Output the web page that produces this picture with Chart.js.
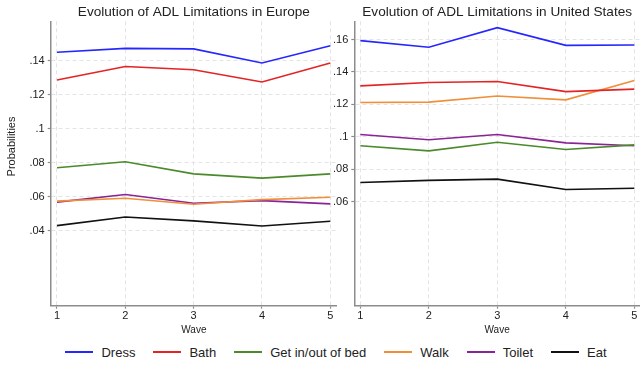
<!DOCTYPE html>
<html>
<head>
<meta charset="utf-8">
<script src="https://cdn.jsdelivr.net/npm/chart.js@4/dist/chart.umd.min.js"></script>
<style>
  html, body { margin: 0; padding: 0; background: #fff; }
  #wrap { position: relative; width: 640px; height: 365px; overflow: hidden; }
  canvas { position: absolute; top: 0; }
  #euChart { left: 0; }
  #usChart { left: 300px; }
  #legend {
    position: absolute; left: 0; top: 343px; width: 640px; height: 18px;
    display: flex; justify-content: center; align-items: center;
    padding-left: 32px; box-sizing: border-box;
    font-family: "Liberation Sans", Arial, Helvetica, sans-serif;
    font-size: 13px; color: #222;
  }
  .item { display: flex; align-items: center; margin-right: 18px; }
  .item:last-child { margin-right: 0; }
  .swatch { width: 28px; height: 2px; margin-right: 8px; }
</style>
</head>
<body>
<div id="wrap">
  <canvas id="euChart" width="337" height="340"></canvas>
  <canvas id="usChart" width="340" height="340"></canvas>
  <div id="legend"></div>
</div>
<script>
// =============================================================================
// DATA
// =============================================================================
const waves = [1, 2, 3, 4, 5];
const seriesNames = ["Dress", "Bath", "Get in/out of bed", "Walk", "Toilet", "Eat"];
const seriesColors = ["#2626ff", "#e42324", "#4b8a2b", "#f08f3a", "#8a2496", "#111111"];

// Europe
const euDress  = [0.1449, 0.1472, 0.1469, 0.1386, 0.1488];
const euBath   = [0.1286, 0.1366, 0.1347, 0.1275, 0.1386];
const euBed    = [0.0771, 0.0806, 0.0735, 0.0710, 0.0735];
const euWalk   = [0.0575, 0.0592, 0.0557, 0.0584, 0.0598];
const euToilet = [0.0569, 0.0614, 0.0563, 0.0578, 0.0559];
const euEat    = [0.0431, 0.0482, 0.0459, 0.0429, 0.0457];

// United States
const usDress  = [0.1593, 0.1552, 0.1673, 0.1564, 0.1566];
const usBath   = [0.1314, 0.1335, 0.1341, 0.1279, 0.1294];
const usBed    = [0.0945, 0.0914, 0.0967, 0.0922, 0.0951];
const usWalk   = [0.1212, 0.1214, 0.1252, 0.1228, 0.1347];
const usToilet = [0.1015, 0.0982, 0.1015, 0.0963, 0.0945];
const usEat    = [0.0719, 0.0732, 0.0740, 0.0676, 0.0684];

// tick labels (Stata style, no leading zero)
const euTicks      = [0.04, 0.06, 0.08, 0.10, 0.12, 0.14];
const euTickLabels = [".04", ".06", ".08", ".1", ".12", ".14"];
const usTicks      = [0.06, 0.08, 0.10, 0.12, 0.14, 0.16];
const usTickLabels = [".06", ".08", ".1", ".12", ".14", ".16"];

// =============================================================================
// HELPERS
// =============================================================================
const FONT = '"Liberation Sans", Arial, Helvetica, sans-serif';
const AXIS_COLOR = "#8c8c8c";
const GRID_COLOR = "#e4e4e4";

function makeDatasets(values) {
  return values.map((v, i) => ({
    label: seriesNames[i],
    data: waves.map((w, j) => ({ x: w, y: v[j] })),
    borderColor: seriesColors[i],
    backgroundColor: seriesColors[i],
    borderWidth: 1.6,
    pointRadius: 0,
    tension: 0,
    fill: false
  }));
}

// y axis title drawn a bit above the plot centre, like Stata does
const yTitlePlugin = {
  id: "yTitle",
  afterDraw(chart, args, opts) {
    if (!opts.text) return;
    const ctx = chart.ctx;
    ctx.save();
    ctx.translate(opts.x, opts.y);
    ctx.rotate(-Math.PI / 2);
    ctx.font = `11px ${FONT}`;
    ctx.fillStyle = "#222";
    ctx.textAlign = "center";
    ctx.textBaseline = "middle";
    ctx.fillText(opts.text, 0, 0);
    ctx.restore();
  }
};

function makeChart(canvasId, cfg) {
  return new Chart(document.getElementById(canvasId), {
    type: "line",
    data: { datasets: makeDatasets(cfg.values) },
    plugins: [yTitlePlugin],
    options: {
      responsive: false,
      animation: false,
      layout: { padding: 0 },
      plugins: {
        legend: { display: false },
        tooltip: { enabled: false },
        title: {
          display: true,
          text: cfg.title,
          fullSize: false,
          color: "#222",
          font: { family: FONT, size: 13.6, weight: "normal" },
          padding: { top: 4, bottom: 1 }
        },
        yTitle: cfg.yTitle
      },
      scales: {
        x: {
          type: "linear",
          min: cfg.xMin,
          max: cfg.xMax,
          afterBuildTicks: s => { s.ticks = waves.map(w => ({ value: w })); },
          afterFit: s => { s.height = 34.3; },
          ticks: {
            color: "#222",
            font: { family: FONT, size: 11 },
            padding: 1,
            maxRotation: 0,
            callback: v => String(v)
          },
          grid: {
            color: GRID_COLOR,
            lineWidth: 1,
            tickLength: 3,
            tickColor: AXIS_COLOR,
            tickWidth: 1.2,
            tickBorderDash: []
          },
          border: { display: true, color: AXIS_COLOR, width: 1.5, dash: [4, 3] },
          title: {
            display: true,
            text: "Wave",
            color: "#222",
            font: { family: FONT, size: 10 },
            padding: { top: 0, bottom: 4 }
          }
        },
        y: {
          type: "linear",
          min: cfg.yMin,
          max: cfg.yMax,
          afterBuildTicks: s => { s.ticks = cfg.ticks.map(t => ({ value: t })); },
          afterFit: s => { s.width = cfg.yWidth; },
          ticks: {
            color: "#222",
            font: { family: FONT, size: 11 },
            padding: 3,
            crossAlign: "near",
            callback: (v, i) => cfg.tickLabels[i]
          },
          grid: {
            color: GRID_COLOR,
            lineWidth: 1,
            tickLength: 3,
            tickColor: AXIS_COLOR,
            tickWidth: 1.2,
            tickBorderDash: []
          },
          border: { display: true, color: AXIS_COLOR, width: 1.5, dash: [4, 3] }
        }
      }
    }
  });
}

// =============================================================================
// CHARTS
// =============================================================================
makeChart("euChart", {
  title: "Evolution of ADL Limitations in Europe",
  values: [euDress, euBath, euBed, euWalk, euToilet, euEat],
  ticks: euTicks,
  tickLabels: euTickLabels,
  yMin: -0.0039, yMax: 0.1631,
  xMin: 0.908, xMax: 5.098,
  yWidth: 50.7,
  yTitle: { text: "Probabilities", x: 12, y: 146.5 }
});

makeChart("usChart", {
  title: "Evolution of ADL Limitations in United States",
  values: [usDress, usBath, usBed, usWalk, usToilet, usEat],
  ticks: usTicks,
  tickLabels: usTickLabels,
  yMin: -0.004, yMax: 0.1712,
  xMin: 0.912, xMax: 5.083,
  yWidth: 54.3,
  yTitle: { text: "" }
});

// =============================================================================
// LEGEND (shared)
// =============================================================================
const legend = document.getElementById("legend");
seriesNames.forEach((name, i) => {
  const item = document.createElement("div");
  item.className = "item";
  item.innerHTML = `<span class="swatch" style="background:${seriesColors[i]}"></span><span>${name}</span>`;
  legend.appendChild(item);
});
</script>
</body>
</html>
